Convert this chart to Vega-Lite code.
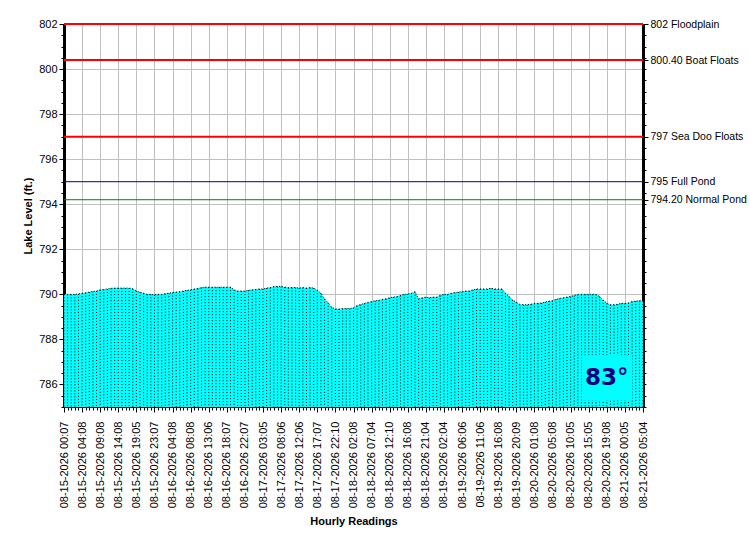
{
  "$schema": "https://vega.github.io/schema/vega-lite/v6.json",
  "width": 579,
  "height": 383,
  "autosize": {"type": "none"},
  "padding": {"left": 64, "top": 24, "right": 107, "bottom": 143},
  "background": "white",
  "datasets": {
    "levels": [
      {"time": "08-15-2026 00:07", "level": 790.00},
      {"time": "08-15-2026 01:07", "level": 790.00},
      {"time": "08-15-2026 02:08", "level": 790.00},
      {"time": "08-15-2026 03:07", "level": 790.00},
      {"time": "08-15-2026 03:38", "level": 790.02},
      {"time": "08-15-2026 04:08", "level": 790.05},
      {"time": "08-15-2026 05:08", "level": 790.07},
      {"time": "08-15-2026 06:07", "level": 790.10},
      {"time": "08-15-2026 07:08", "level": 790.13},
      {"time": "08-15-2026 08:08", "level": 790.15},
      {"time": "08-15-2026 09:08", "level": 790.20},
      {"time": "08-15-2026 10:08", "level": 790.22},
      {"time": "08-15-2026 11:07", "level": 790.24},
      {"time": "08-15-2026 12:08", "level": 790.27},
      {"time": "08-15-2026 13:08", "level": 790.28},
      {"time": "08-15-2026 14:08", "level": 790.28},
      {"time": "08-15-2026 15:06", "level": 790.28},
      {"time": "08-15-2026 16:07", "level": 790.28},
      {"time": "08-15-2026 17:05", "level": 790.28},
      {"time": "08-15-2026 18:06", "level": 790.25},
      {"time": "08-15-2026 19:05", "level": 790.15},
      {"time": "08-15-2026 20:06", "level": 790.10},
      {"time": "08-15-2026 21:07", "level": 790.05},
      {"time": "08-15-2026 22:06", "level": 790.00},
      {"time": "08-15-2026 22:37", "level": 790.00},
      {"time": "08-15-2026 23:07", "level": 789.98},
      {"time": "08-16-2026 00:08", "level": 790.00},
      {"time": "08-16-2026 01:07", "level": 790.00},
      {"time": "08-16-2026 02:08", "level": 790.03},
      {"time": "08-16-2026 03:07", "level": 790.05},
      {"time": "08-16-2026 04:08", "level": 790.08},
      {"time": "08-16-2026 05:08", "level": 790.10},
      {"time": "08-16-2026 06:07", "level": 790.12},
      {"time": "08-16-2026 07:08", "level": 790.15},
      {"time": "08-16-2026 07:38", "level": 790.18},
      {"time": "08-16-2026 08:08", "level": 790.20},
      {"time": "08-16-2026 09:07", "level": 790.24},
      {"time": "08-16-2026 10:06", "level": 790.26},
      {"time": "08-16-2026 11:07", "level": 790.30},
      {"time": "08-16-2026 12:06", "level": 790.32},
      {"time": "08-16-2026 13:06", "level": 790.32},
      {"time": "08-16-2026 14:07", "level": 790.32},
      {"time": "08-16-2026 15:06", "level": 790.32},
      {"time": "08-16-2026 16:07", "level": 790.32},
      {"time": "08-16-2026 17:06", "level": 790.32},
      {"time": "08-16-2026 18:07", "level": 790.32},
      {"time": "08-16-2026 19:07", "level": 790.32},
      {"time": "08-16-2026 20:06", "level": 790.20},
      {"time": "08-16-2026 21:07", "level": 790.15},
      {"time": "08-16-2026 21:37", "level": 790.15},
      {"time": "08-16-2026 22:07", "level": 790.15},
      {"time": "08-16-2026 23:06", "level": 790.18},
      {"time": "08-17-2026 00:05", "level": 790.20},
      {"time": "08-17-2026 01:06", "level": 790.22},
      {"time": "08-17-2026 02:05", "level": 790.24},
      {"time": "08-17-2026 03:05", "level": 790.24},
      {"time": "08-17-2026 04:06", "level": 790.28},
      {"time": "08-17-2026 05:05", "level": 790.30},
      {"time": "08-17-2026 06:06", "level": 790.35},
      {"time": "08-17-2026 07:05", "level": 790.35},
      {"time": "08-17-2026 08:06", "level": 790.35},
      {"time": "08-17-2026 09:06", "level": 790.32},
      {"time": "08-17-2026 10:05", "level": 790.30},
      {"time": "08-17-2026 11:06", "level": 790.30},
      {"time": "08-17-2026 11:36", "level": 790.30},
      {"time": "08-17-2026 12:06", "level": 790.28},
      {"time": "08-17-2026 13:07", "level": 790.30},
      {"time": "08-17-2026 14:06", "level": 790.28},
      {"time": "08-17-2026 15:07", "level": 790.30},
      {"time": "08-17-2026 16:06", "level": 790.28},
      {"time": "08-17-2026 17:07", "level": 790.18},
      {"time": "08-17-2026 18:08", "level": 790.05},
      {"time": "08-17-2026 19:09", "level": 789.80},
      {"time": "08-17-2026 20:08", "level": 789.62},
      {"time": "08-17-2026 21:10", "level": 789.42},
      {"time": "08-17-2026 22:10", "level": 789.35},
      {"time": "08-17-2026 23:09", "level": 789.35},
      {"time": "08-18-2026 00:08", "level": 789.37},
      {"time": "08-18-2026 01:09", "level": 789.37},
      {"time": "08-18-2026 01:38", "level": 789.37},
      {"time": "08-18-2026 02:08", "level": 789.40},
      {"time": "08-18-2026 03:05", "level": 789.50},
      {"time": "08-18-2026 04:04", "level": 789.55},
      {"time": "08-18-2026 05:05", "level": 789.60},
      {"time": "08-18-2026 06:04", "level": 789.64},
      {"time": "08-18-2026 07:04", "level": 789.68},
      {"time": "08-18-2026 08:05", "level": 789.72},
      {"time": "08-18-2026 09:10", "level": 789.73},
      {"time": "08-18-2026 10:09", "level": 789.78},
      {"time": "08-18-2026 11:10", "level": 789.80},
      {"time": "08-18-2026 12:10", "level": 789.85},
      {"time": "08-18-2026 13:08", "level": 789.88},
      {"time": "08-18-2026 14:09", "level": 789.90},
      {"time": "08-18-2026 15:08", "level": 789.95},
      {"time": "08-18-2026 15:38", "level": 790.00},
      {"time": "08-18-2026 16:08", "level": 790.02},
      {"time": "08-18-2026 17:05", "level": 790.05},
      {"time": "08-18-2026 18:04", "level": 790.12},
      {"time": "08-18-2026 19:05", "level": 789.80},
      {"time": "08-18-2026 20:04", "level": 789.85},
      {"time": "08-18-2026 21:04", "level": 789.88},
      {"time": "08-18-2026 22:05", "level": 789.85},
      {"time": "08-18-2026 23:04", "level": 789.88},
      {"time": "08-19-2026 00:05", "level": 789.88},
      {"time": "08-19-2026 01:04", "level": 789.95},
      {"time": "08-19-2026 02:04", "level": 790.00},
      {"time": "08-19-2026 03:05", "level": 790.00},
      {"time": "08-19-2026 04:06", "level": 790.05},
      {"time": "08-19-2026 05:05", "level": 790.08},
      {"time": "08-19-2026 05:36", "level": 790.10},
      {"time": "08-19-2026 06:06", "level": 790.12},
      {"time": "08-19-2026 07:06", "level": 790.15},
      {"time": "08-19-2026 08:05", "level": 790.15},
      {"time": "08-19-2026 09:06", "level": 790.20},
      {"time": "08-19-2026 10:06", "level": 790.24},
      {"time": "08-19-2026 11:06", "level": 790.24},
      {"time": "08-19-2026 12:07", "level": 790.24},
      {"time": "08-19-2026 13:08", "level": 790.24},
      {"time": "08-19-2026 14:07", "level": 790.27},
      {"time": "08-19-2026 15:08", "level": 790.24},
      {"time": "08-19-2026 16:08", "level": 790.24},
      {"time": "08-19-2026 17:09", "level": 790.24},
      {"time": "08-19-2026 18:08", "level": 790.05},
      {"time": "08-19-2026 19:09", "level": 789.90},
      {"time": "08-19-2026 19:39", "level": 789.75},
      {"time": "08-19-2026 20:09", "level": 789.65},
      {"time": "08-19-2026 21:08", "level": 789.55},
      {"time": "08-19-2026 22:09", "level": 789.54},
      {"time": "08-19-2026 23:08", "level": 789.54},
      {"time": "08-20-2026 00:08", "level": 789.56},
      {"time": "08-20-2026 01:08", "level": 789.60},
      {"time": "08-20-2026 02:08", "level": 789.60},
      {"time": "08-20-2026 03:07", "level": 789.62},
      {"time": "08-20-2026 04:08", "level": 789.66},
      {"time": "08-20-2026 04:38", "level": 789.70},
      {"time": "08-20-2026 05:08", "level": 789.72},
      {"time": "08-20-2026 06:05", "level": 789.78},
      {"time": "08-20-2026 07:06", "level": 789.82},
      {"time": "08-20-2026 08:05", "level": 789.85},
      {"time": "08-20-2026 09:06", "level": 789.88},
      {"time": "08-20-2026 10:05", "level": 789.90},
      {"time": "08-20-2026 11:05", "level": 789.95},
      {"time": "08-20-2026 12:06", "level": 790.00},
      {"time": "08-20-2026 13:05", "level": 790.00},
      {"time": "08-20-2026 14:06", "level": 790.00},
      {"time": "08-20-2026 15:05", "level": 790.00},
      {"time": "08-20-2026 16:08", "level": 790.00},
      {"time": "08-20-2026 17:07", "level": 790.00},
      {"time": "08-20-2026 18:08", "level": 789.90},
      {"time": "08-20-2026 18:38", "level": 789.75},
      {"time": "08-20-2026 19:08", "level": 789.60},
      {"time": "08-20-2026 20:05", "level": 789.54},
      {"time": "08-20-2026 21:06", "level": 789.54},
      {"time": "08-20-2026 22:05", "level": 789.56},
      {"time": "08-20-2026 23:06", "level": 789.60},
      {"time": "08-21-2026 00:05", "level": 789.60},
      {"time": "08-21-2026 01:04", "level": 789.62},
      {"time": "08-21-2026 02:05", "level": 789.68},
      {"time": "08-21-2026 03:04", "level": 789.70},
      {"time": "08-21-2026 04:05", "level": 789.72},
      {"time": "08-21-2026 05:04", "level": 789.70}
    ],
    "thresholds": [
      {"value": 802, "name": "Floodplain"},
      {"value": 800.4, "name": "Boat Floats"},
      {"value": 797, "name": "Sea Doo Floats"},
      {"value": 795, "name": "Full Pond"},
      {"value": 794.2, "name": "Normal Pond"}
    ],
    "temperature": [
      {"temp": "83°"}
    ]
  },
  "resolve": {"scale": {"y": "shared"}, "axis": {"y": "independent"}},
  "layer": [
    {
      "data": {"name": "levels"},
      "mark": {"type": "area", "color": "#00FFFF", "interpolate": "linear", "clip": true},
      "encoding": {
        "x": {
          "field": "time",
          "type": "nominal",
          "sort": null,
          "scale": {"type": "point", "padding": 0},
          "axis": {
            "title": "Hourly Readings",
            "labelAngle": -90,
            "labelOverlap": false,
            "labelPadding": 9,
            "labelExpr": "round(datum.index * 160) % 5 == 0 ? datum.label : ''",
            "tickSize": {"condition": {"test": "round(datum.index * 160) % 5 == 0", "value": 5}, "value": 3},
            "grid": true,
            "gridOpacity": {"condition": {"test": "round(datum.index * 160) % 5 == 0", "value": 1}, "value": 0},
            "domainColor": "black",
            "domainWidth": 1,
            "titlePadding": 8
          }
        },
        "y": {
          "field": "level",
          "type": "quantitative",
          "scale": {"domain": [785, 802], "zero": false, "nice": false},
          "axis": {
            "title": "Lake Level (ft.)",
            "orient": "left",
            "format": ".0f",
            "values": [785, 785.5, 786, 786.5, 787, 787.5, 788, 788.5, 789, 789.5, 790, 790.5, 791, 791.5, 792, 792.5, 793, 793.5, 794, 794.5, 795, 795.5, 796, 796.5, 797, 797.5, 798, 798.5, 799, 799.5, 800, 800.5, 801, 801.5, 802],
            "labelExpr": "datum.value % 2 == 0 ? datum.label : ''",
            "tickSize": {"condition": {"test": "datum.value % 2 == 0", "value": 5}, "value": 3},
            "grid": true,
            "gridOpacity": {"condition": {"test": "datum.value % 2 == 0", "value": 1}, "value": 0},
            "labelOverlap": false,
            "labelPadding": 2,
            "domainColor": "black",
            "domainWidth": 3,
            "titlePadding": 5
          }
        }
      }
    },
    {
      "data": {"name": "levels"},
      "mark": {"type": "rule", "color": "black", "strokeWidth": 1, "strokeDash": [1, 2]},
      "encoding": {
        "x": {"field": "time", "type": "nominal", "sort": null},
        "y": {"field": "level", "type": "quantitative", "axis": null},
        "y2": {"datum": 785}
      }
    },
    {
      "data": {"name": "levels"},
      "mark": {"type": "line", "color": "black", "strokeWidth": 1, "strokeDash": [1, 2]},
      "encoding": {
        "x": {"field": "time", "type": "nominal", "sort": null},
        "y": {"field": "level", "type": "quantitative", "axis": null}
      }
    },
    {
      "data": {"name": "thresholds"},
      "mark": {"type": "rule"},
      "encoding": {
        "y": {
          "field": "value",
          "type": "quantitative",
          "axis": {
            "orient": "right",
            "title": null,
            "grid": false,
            "values": [785, 785.5, 786, 786.5, 787, 787.5, 788, 788.5, 789, 789.5, 790, 790.5, 791, 791.5, 792, 792.5, 793, 793.5, 794, 794.2, 794.5, 795, 795.5, 796, 796.5, 797, 797.5, 798, 798.5, 799, 799.5, 800, 800.4, 800.5, 801, 801.5, 802],
            "labelExpr": "datum.value == 802 ? '802 Floodplain' : datum.value == 800.4 ? '800.40 Boat Floats' : datum.value == 797 ? '797 Sea Doo Floats' : datum.value == 795 ? '795 Full Pond' : datum.value == 794.2 ? '794.20 Normal Pond' : ''",
            "labelOverlap": false,
            "labelPadding": 2,
            "labelFontSize": 10.5,
            "tickSize": {"condition": {"test": "datum.value == 802 || datum.value == 800.4 || datum.value == 797 || datum.value == 795 || datum.value == 794.2", "value": 5}, "value": 3},
            "domainColor": "black",
            "domainWidth": 3
          }
        },
        "color": {
          "field": "name",
          "type": "nominal",
          "scale": {
            "domain": ["Floodplain", "Boat Floats", "Sea Doo Floats", "Full Pond", "Normal Pond"],
            "range": ["#FF0000", "#FF0000", "#FF0000", "#000080", "#008000"]
          },
          "legend": null
        },
        "strokeWidth": {"condition": {"test": "datum.value > 796", "value": 2}, "value": 1}
      }
    },
    {
      "data": {"name": "temperature"},
      "mark": {"type": "rect", "color": "#00FFFF"},
      "encoding": {
        "x": {"datum": "08-20-2026 13:05", "type": "nominal"},
        "x2": {"datum": "08-21-2026 02:05"},
        "y": {"datum": 787.3, "type": "quantitative", "axis": null},
        "y2": {"datum": 785.3}
      }
    },
    {
      "data": {"name": "temperature"},
      "mark": {"type": "text", "font": "DejaVu Sans", "fontWeight": "bold", "fontSize": 23, "color": "#000080", "align": "center", "baseline": "middle"},
      "encoding": {
        "x": {"datum": "08-20-2026 19:08", "type": "nominal"},
        "y": {"datum": 786.3, "type": "quantitative", "axis": null},
        "text": {"field": "temp"}
      }
    }
  ],
  "config": {
    "font": "Liberation Sans",
    "view": {"stroke": null},
    "axis": {
      "labelFont": "Liberation Sans",
      "labelFontSize": 11,
      "labelColor": "black",
      "titleFont": "Liberation Sans",
      "titleFontSize": 11,
      "titleFontWeight": "bold",
      "titleColor": "black",
      "tickColor": "black",
      "gridColor": "#C0C0C0",
      "gridWidth": 1
    }
  }
}
